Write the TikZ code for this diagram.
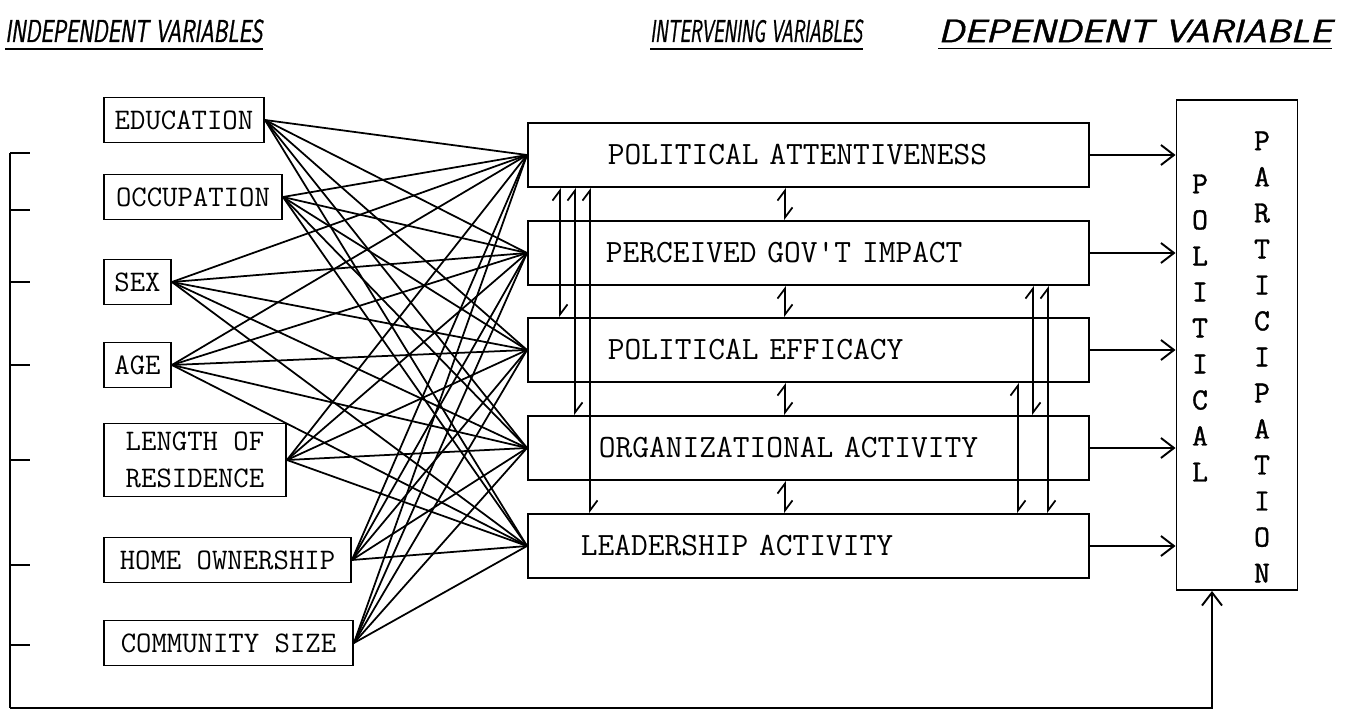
\documentclass[tikz,border=0pt]{standalone}
\usepackage{fontspec}
\usetikzlibrary{positioning, arrows.meta}
\newfontfamily\depfont[FakeBold=1.2]{Latin Modern Mono}
\newfontfamily\titrefont[FakeBold=1.2]{Latin Modern Sans}
\tikzset{%
    % boites des variables
    indep/.style  = {draw, line width=1.1pt, rectangle, anchor=west, align=center,
    font=\ttfamily\fontsize{17}{21}\selectfont, minimum height=9mm},
    interv/.style = {draw, line width=1.1pt, rectangle, anchor=west, align=left,
    minimum height=12.8mm, text width=112.2mm, inner xsep=0pt,
    font=\ttfamily\fontsize{18.5}{21}\selectfont},
    dep/.style    = {draw, line width=1.1pt, rectangle, minimum width=24.2mm,
    minimum height=98mm},
    % titres soulignes
    titre/.style  = {anchor=west, inner sep=0pt,
    font=\titrefont\itshape\fontsize{16}{19}\selectfont},
    lien/.style   = {line width=1pt},
}

\begin{document}
\begin{tikzpicture}[x=0.2mm, y=-0.2mm]

	\tikzstyle{arc}=[-{Straight Barb[length=2.6mm,width=4mm]}, line width=1.1pt]
	\tikzstyle{arcd}=[{Straight Barb[harpoon,length=2mm,width=3mm]}-{Straight Barb[harpoon,length=2mm,width=3mm]}, line width=1pt]

	\useasboundingbox (0,0) rectangle (1351,713);

	% titres
	\node[titre] (t1) at (5,31)   {\resizebox{51.4mm}{4.5mm}{INDEPENDENT VARIABLES}};
	\node[titre] (t2) at (650,31) {\resizebox{42.4mm}{4.5mm}{INTERVENING VARIABLES}};
	\node[titre] (t3) at (938,31) {\resizebox{78.6mm}{4.5mm}{DEPENDENT VARIABLE}};
	\foreach \t in {t1,t2,t3}
		\draw[lien] ([yshift=-1.2mm]\t.south west) -- ([yshift=-1.2mm]\t.south east);

	% variables independantes
	\node[indep, minimum width=32mm]   (edu)  at (103,120) {EDUCATION};
	\node[indep, minimum width=35.6mm] (occ)  at (103,197) {OCCUPATION};
	\node[indep, minimum width=13.4mm] (sex)  at (103,282) {SEX};
	\node[indep, minimum width=13.4mm] (age)  at (103,365) {AGE};
	\node[indep, minimum width=36.4mm, minimum height=14.6mm] (res) at (103,460) {LENGTH OF\\ RESIDENCE};
	\node[indep, minimum width=49.4mm] (home) at (103,560) {HOME OWNERSHIP};
	\node[indep, minimum width=49.8mm] (comm) at (103,643) {COMMUNITY SIZE};

	% variables intermediaires
	\node[interv] (pa) at (527,155) {\hspace*{16mm}POLITICAL ATTENTIVENESS};
	\node[interv] (pg) at (527,253) {\hspace*{15.6mm}PERCEIVED GOV'T IMPACT};
	\node[interv] (pe) at (527,350) {\hspace*{16mm}POLITICAL EFFICACY};
	\node[interv] (oa) at (527,448) {\hspace*{14.2mm}ORGANIZATIONAL ACTIVITY};
	\node[interv] (la) at (527,546) {\hspace*{10.6mm}LEADERSHIP ACTIVITY};

	% variable dependante
	\node[dep] (dep) at (1237,345) {};
	\node[inner sep=0pt, align=center, font=\depfont\fontsize{17.5}{20.5}\selectfont]
		(pol) at (1200,328) {P\\O\\L\\I\\T\\I\\C\\A\\L};
	\node[inner sep=0pt, align=center, font=\depfont\fontsize{17.5}{20.5}\selectfont]
		(par) at (1262,357) {P\\A\\R\\T\\I\\C\\I\\P\\A\\T\\I\\O\\N};

	% liens independantes -> intermediaires
	\foreach \a in {edu,occ,sex,age,res,home,comm}
		\foreach \b in {pa,pg,pe,oa,la}
			\draw[lien] (\a.east) -- (\b.west);

	% intermediaires -> dependante
	\foreach \b in {pa,pg,pe,oa,la}
		\draw[arc] (\b.east) -- (\b.east -| dep.west);

	% liens entre intermediaires
	\coordinate (m)  at (785,0);
	\coordinate (g1) at (560,0);
	\coordinate (g2) at (575,0);
	\coordinate (g3) at (590,0);
	\coordinate (d1) at (1018,0);
	\coordinate (d2) at (1033,0);
	\coordinate (d3) at (1048,0);
	\foreach \a/\b in {pa/pg,pg/pe,pe/oa,oa/la}
		\draw[arcd] (\a.south -| m) -- (\b.north -| m);
	\draw[arcd] (pa.south -| g1) -- (pe.north -| g1);
	\draw[arcd] (pa.south -| g2) -- (oa.north -| g2);
	\draw[arcd] (pa.south -| g3) -- (la.north -| g3);
	\draw[arcd] (pe.south -| d1) -- (la.north -| d1);
	\draw[arcd] (pg.south -| d2) -- (oa.north -| d2);
	\draw[arcd] (pg.south -| d3) -- (la.north -| d3);

	% accolade a gauche et retour
	\coordinate (coin) at (10,708);
	\coordinate (fb)   at (1212,0);
	\draw[lien] (10,153) -- (coin);
	\foreach \y in {153,210,282,365,460,565,645}
		\draw[lien] (10,\y) -- (30,\y);
	\draw[arc] (coin) -| (fb |- dep.south);

\end{tikzpicture}
\end{document}
